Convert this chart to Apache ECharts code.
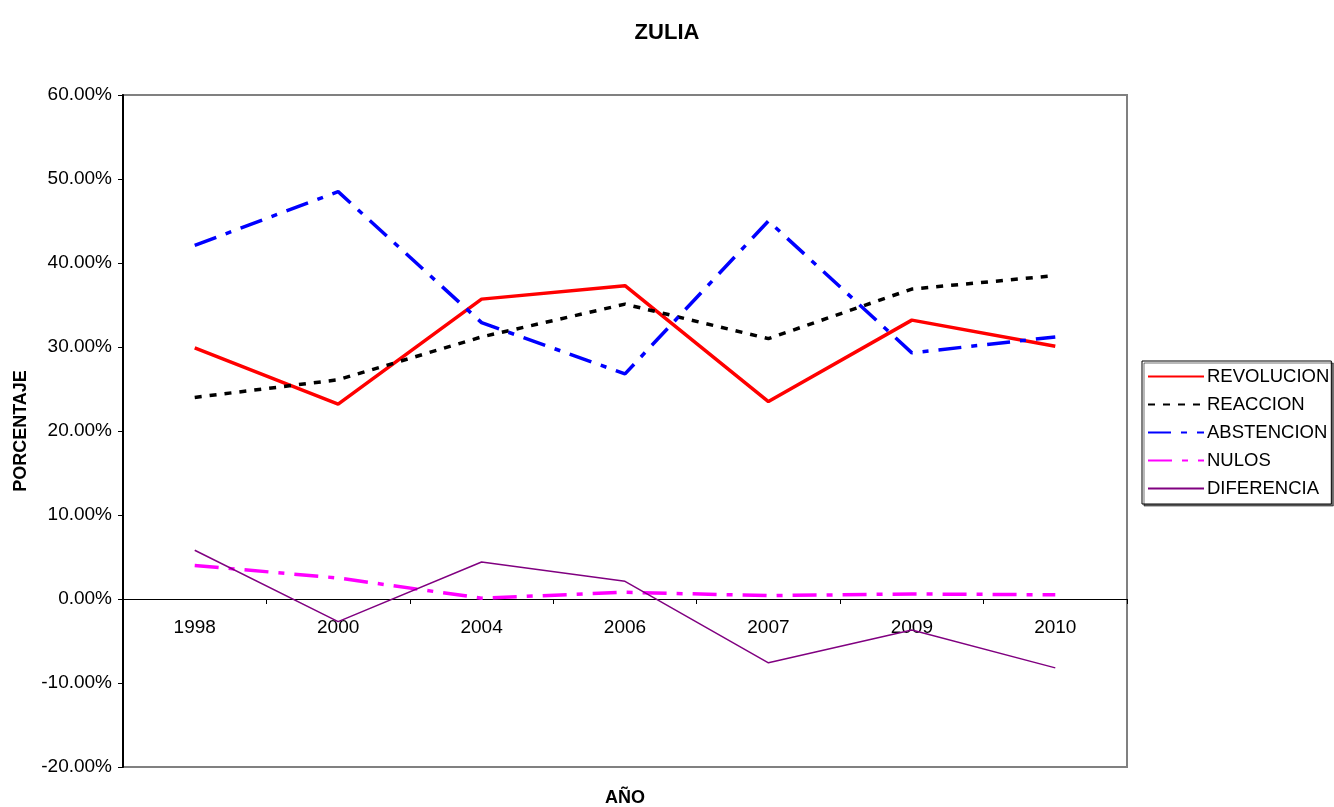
<!DOCTYPE html>
<html>
<head>
<meta charset="utf-8">
<script src="https://cdn.jsdelivr.net/npm/echarts@6/dist/echarts.min.js"></script>
<style>
  html, body { margin: 0; padding: 0; background: #fff; }
  #chart { width: 1334px; height: 807px; }
</style>
</head>
<body>
<div id="chart"></div>
<script>
// datos (fraccion, 0.30 = 30%)
var anios = ['1998', '2000', '2004', '2006', '2007', '2009', '2010'];
var revolucion = [0.299, 0.232, 0.357, 0.373, 0.235, 0.332, 0.301];
var reaccion   = [0.240, 0.261, 0.312, 0.351, 0.310, 0.369, 0.385];
var abstencion = [0.421, 0.485, 0.329, 0.268, 0.450, 0.293, 0.312];
var nulos      = [0.040, 0.025, 0.001, 0.008, 0.004, 0.006, 0.005];
var diferencia = [0.058, -0.027, 0.044, 0.021, -0.076, -0.037, -0.082];

var myChart = echarts.init(document.getElementById('chart'));

var fuente = 'Liberation Sans, Arial, sans-serif';

option = {
  animation: false,
  backgroundColor: '#fff',
  textStyle: { fontFamily: fuente },
  title: {
    text: 'ZULIA',
    left: 'center',
    top: 17,
    textStyle: { fontSize: 22, fontWeight: 'bold', color: '#000', fontFamily: fuente }
  },
  legend: {
    orient: 'vertical',
    left: 1142,
    top: 361,
    width: 188,
    padding: [6, 2, 6, 5],
    itemWidth: 56,
    itemHeight: 12,
    itemGap: 9,
    backgroundColor: '#fff',
    borderColor: '#000',
    borderWidth: 1,
    shadowColor: 'rgba(0,0,0,0.55)',
    shadowOffsetX: 2,
    shadowOffsetY: 2,
    itemStyle: { opacity: 0 },
    textStyle: { fontSize: 18.5, color: '#000', fontFamily: fuente, padding: [0, 0, 0, -2] },
    data: ['REVOLUCION', 'REACCION', 'ABSTENCION', 'NULOS', 'DIFERENCIA']
  },
  grid: {
    left: 123,
    right: 207,
    top: 95,
    bottom: 40,
    outerBoundsMode: 'none',
    containLabel: false,
    show: true,
    borderColor: '#808080',
    borderWidth: 2,
    backgroundColor: '#fff'
  },
  xAxis: {
    type: 'category',
    data: anios,
    boundaryGap: true,
    position: 'bottom',
    // el eje corta en 0%: 20% de 80% de la altura del grid (672px) = 168px
    offset: -168,
    name: 'AÑO',
    nameLocation: 'middle',
    nameGap: 190,
    nameTextStyle: { fontSize: 18, fontWeight: 'bold', color: '#000' },
    axisLine: { onZero: false, lineStyle: { color: '#000', width: 1 } },
    axisTick: { show: true, length: 5, lineStyle: { color: '#000' } },
    axisLabel: { fontSize: 19, color: '#000', margin: 19 },
    splitLine: { show: false }
  },
  yAxis: {
    type: 'value',
    min: -0.2,
    max: 0.6,
    interval: 0.1,
    name: 'PORCENTAJE',
    nameLocation: 'middle',
    nameGap: 92,
    nameTextStyle: { fontSize: 18, fontWeight: 'bold', color: '#000' },
    axisLine: { show: true, lineStyle: { color: '#000', width: 2 } },
    axisTick: { show: true, length: 5, lineStyle: { color: '#000' } },
    axisLabel: {
      fontSize: 19, color: '#000', margin: 11,
      formatter: function (v) { return (v * 100).toFixed(2) + '%'; }
    },
    splitLine: { show: false }
  },
  series: [
    {
      name: 'REVOLUCION', type: 'line', data: revolucion, symbol: 'none',
      itemStyle: { color: '#ff0000' },
      lineStyle: { color: '#ff0000', width: 3.5 }
    },
    {
      name: 'REACCION', type: 'line', data: reaccion, symbol: 'none',
      itemStyle: { color: '#000' },
      lineStyle: { color: '#000', width: 3.5, type: [7, 8] }
    },
    {
      name: 'ABSTENCION', type: 'line', data: abstencion, symbol: 'none',
      itemStyle: { color: '#0000ff' },
      lineStyle: { color: '#0000ff', width: 3.5, type: [23, 10, 6, 10] }
    },
    {
      name: 'NULOS', type: 'line', data: nulos, symbol: 'none',
      itemStyle: { color: '#ff00ff' },
      lineStyle: { color: '#ff00ff', width: 3.5, type: [24, 10, 6, 10] }
    },
    {
      name: 'DIFERENCIA', type: 'line', data: diferencia, symbol: 'none',
      itemStyle: { color: '#800080' },
      lineStyle: { color: '#800080', width: 1.5 }
    }
  ]
};

myChart.setOption(option);
</script>
</body>
</html>
